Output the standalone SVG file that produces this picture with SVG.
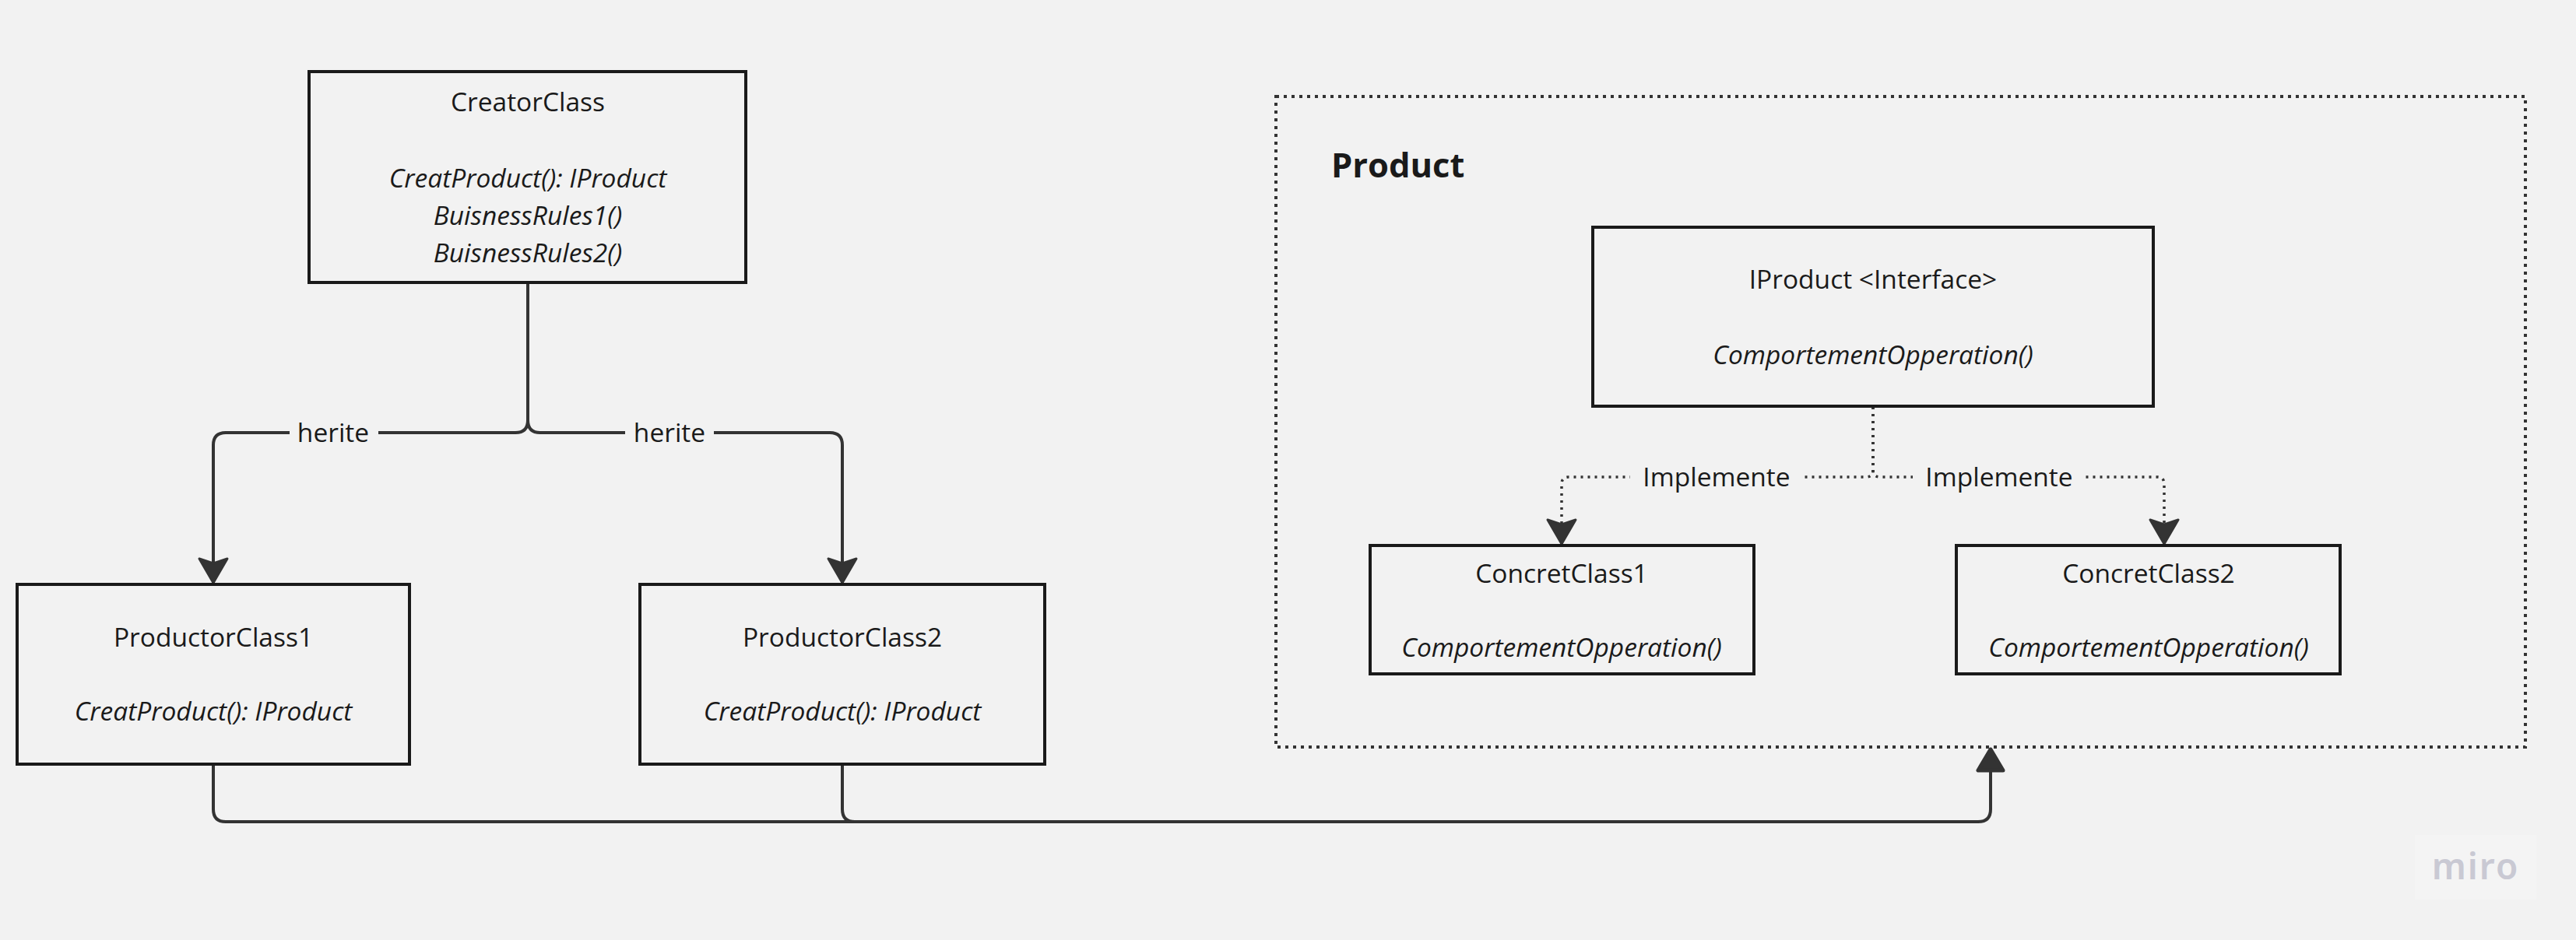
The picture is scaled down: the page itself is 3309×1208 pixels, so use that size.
<svg xmlns="http://www.w3.org/2000/svg" width="3309" height="1208" viewBox="0 0 3309 1208">
<style>
.bg{fill:#f2f2f2}
.box{fill:#f2f2f2;stroke:#1a1a1a;stroke-width:4}
.t{font-family:"Open Sans","Liberation Sans",sans-serif;font-size:33.5px;fill:#1a1a1a;text-anchor:middle}
.i{font-style:italic}
.conn{fill:none;stroke:#333333;stroke-width:4;stroke-linejoin:round}
.dot{fill:none;stroke:#333333;stroke-width:3.5;stroke-dasharray:3 6}
.lbl{fill:#f2f2f2}
</style>
<defs>
<marker id="arr" markerUnits="userSpaceOnUse" markerWidth="50" markerHeight="50" viewBox="-40 -25 50 50" refX="0" refY="0" orient="auto">
<path d="M0,0 L-31,-18 L-25,0 L-31,18 Z" fill="#333333" stroke="#333333" stroke-width="3" stroke-linejoin="round"/>
</marker>
<marker id="arrB" markerUnits="userSpaceOnUse" markerWidth="50" markerHeight="50" viewBox="-40 -25 50 50" refX="0" refY="0" orient="auto">
<path d="M-1,0 L-28,-16 L-28,16 Z" fill="#333333" stroke="#333333" stroke-width="5" stroke-linejoin="round"/>
</marker>
</defs>
<rect class="bg" x="0" y="0" width="3309" height="1208"/>

<g id="product-frame">
<rect x="1639" y="124" width="1605" height="836" fill="none" stroke="#333333" stroke-width="4" stroke-dasharray="4 6"/>
<text x="1710" y="228" style="font-family:'Open Sans','Liberation Sans',sans-serif;font-size:43.5px;font-weight:bold;fill:#1a1a1a">Product</text>
</g>

<g id="connectors">
<path class="conn" d="M678,363 V540 Q678,556 662,556 H290 Q274,556 274,572 V749" marker-end="url(#arr)"/>
<path class="conn" d="M678,363 V540 Q678,556 694,556 H1066 Q1082,556 1082,572 V749" marker-end="url(#arr)"/>
<path class="conn" d="M274,984 V1040 Q274,1056 290,1056 H2541 Q2557,1056 2557,1040 V962" marker-end="url(#arrB)"/>
<path class="conn" d="M1082,984 V1040 Q1082,1056 1098,1056 H1200"/>
<path class="dot" d="M2406,523 V604 Q2406,613 2397,613 H2015 Q2006,613 2006,622 V699" marker-end="url(#arr)"/>
<path class="dot" d="M2406,523 V604 Q2406,613 2415,613 H2771 Q2780,613 2780,622 V699" marker-end="url(#arr)"/>
<rect class="lbl" x="372" y="536" width="114" height="40"/>
<text class="t" x="428" y="568">herite</text>
<rect class="lbl" x="803" y="536" width="114" height="40"/>
<text class="t" x="860" y="568">herite</text>
<rect class="lbl" x="2094" y="593" width="222" height="40"/>
<text class="t" x="2205" y="625">Implemente</text>
<rect class="lbl" x="2457" y="593" width="222" height="40"/>
<text class="t" x="2568" y="625">Implemente</text>
</g>

<g id="creator">
<rect class="box" x="397" y="92" width="561" height="271"/>
<text class="t" x="678" y="143">CreatorClass</text>
<text class="t i" x="678" y="241">CreatProduct(): IProduct</text>
<text class="t i" x="678" y="289">BuisnessRules1()</text>
<text class="t i" x="678" y="337">BuisnessRules2()</text>
</g>

<g id="productor1">
<rect class="box" x="22" y="751" width="504" height="231"/>
<text class="t" x="274" y="831">ProductorClass1</text>
<text class="t i" x="274" y="926">CreatProduct(): IProduct</text>
</g>

<g id="productor2">
<rect class="box" x="822" y="751" width="520" height="231"/>
<text class="t" x="1082" y="831">ProductorClass2</text>
<text class="t i" x="1082" y="926">CreatProduct(): IProduct</text>
</g>

<g id="iproduct">
<rect class="box" x="2046" y="292" width="720" height="230"/>
<text class="t" x="2406" y="371">IProduct &lt;Interface&gt;</text>
<text class="t i" x="2406" y="468">ComportementOpperation()</text>
</g>

<g id="concret1">
<rect class="box" x="1760" y="701" width="493" height="165"/>
<text class="t" x="2006" y="749">ConcretClass1</text>
<text class="t i" x="2006" y="844">ComportementOpperation()</text>
</g>

<g id="concret2">
<rect class="box" x="2513" y="701" width="493" height="165"/>
<text class="t" x="2760" y="749">ConcretClass2</text>
<text class="t i" x="2760" y="844">ComportementOpperation()</text>
</g>

<g id="miro-logo">
<rect x="3102" y="1073" width="156" height="83" fill="#f4f4f4"/>
<text x="3180" y="1130" style="font-family:'Noto Sans','Open Sans',sans-serif;font-size:46px;font-weight:600;letter-spacing:2px;fill:#c9c9d3;text-anchor:middle">miro</text>
</g>
</svg>
